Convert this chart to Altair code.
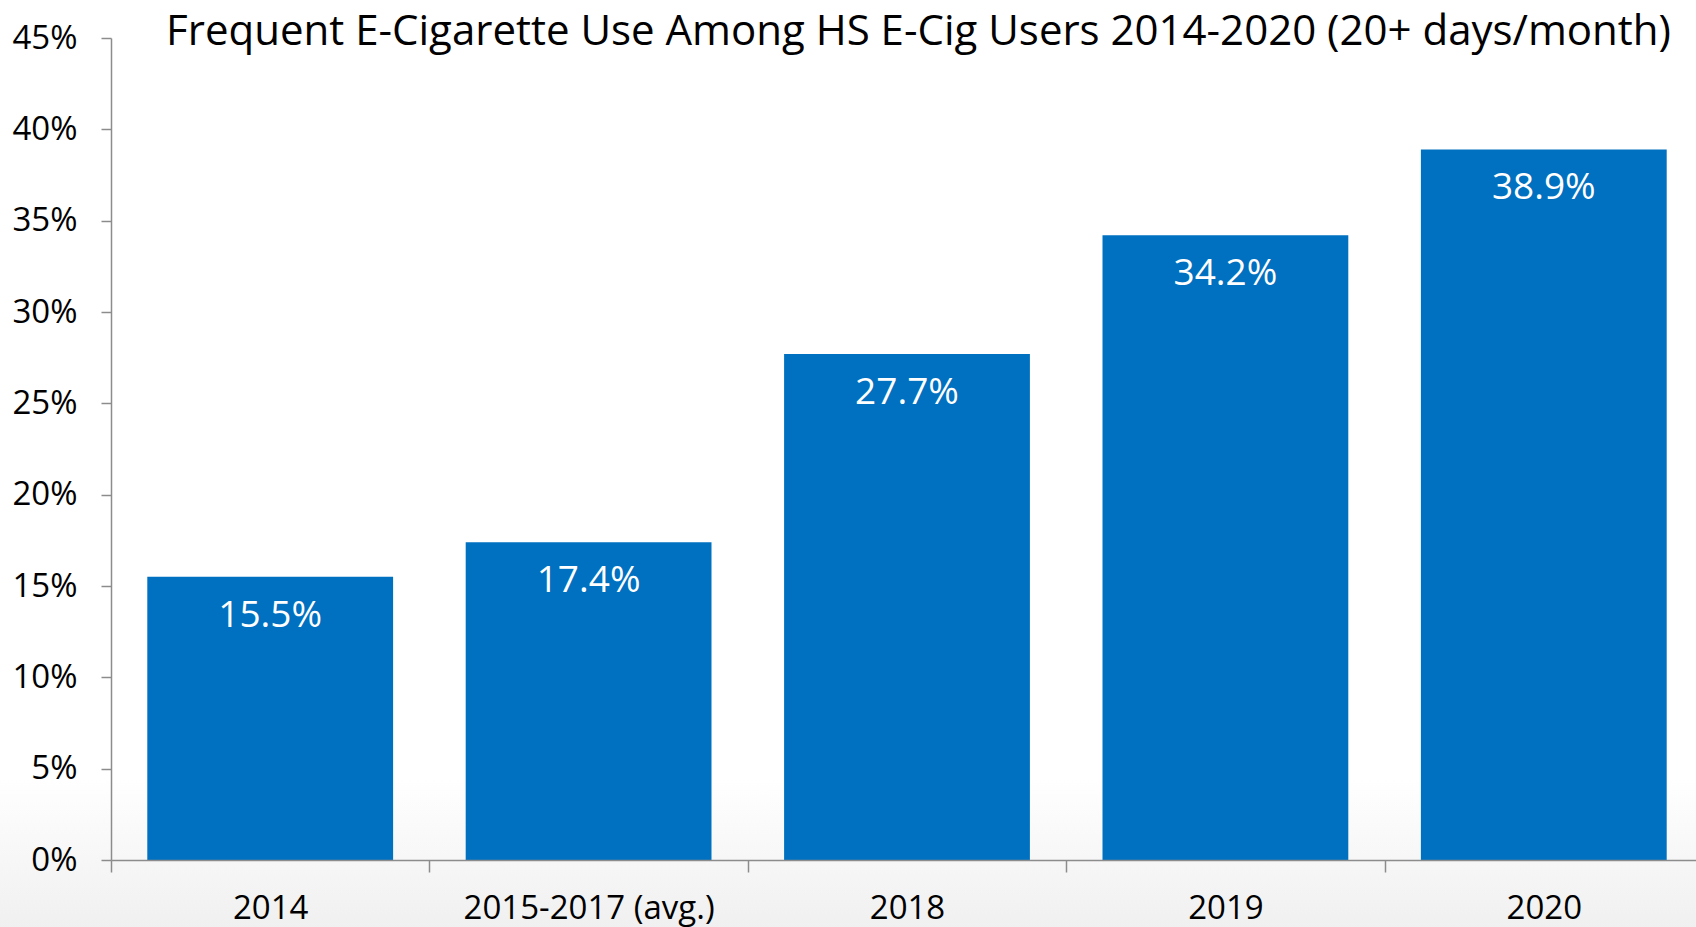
import altair as alt
import pandas as pd

categories = ["2014", "2015-2017 (avg.)", "2018", "2019", "2020"]
values = [15.5, 17.4, 27.7, 34.2, 38.9]
labels = ["15.5%", "17.4%", "27.7%", "34.2%", "38.9%"]

df = pd.DataFrame({"cat": categories, "val": values, "lab": labels})

FONT = "Open Sans"
AXIS_GRAY = "#8c8c8c"

base = alt.Chart(df)

x_scale = alt.Scale(paddingInner=0, paddingOuter=0, range=[0, 1592])

x_enc = alt.X(
    "cat:N",
    sort=categories,
    scale=x_scale,
    axis=alt.Axis(
        title=None,
        labelAngle=0,
        labelFont=FONT,
        labelFontSize=33,
        labelColor="black",
        labelPadding=20,
        labelLimit=0,
        tickBand="extent",
        tickSize=12,
        tickColor=AXIS_GRAY,
        tickWidth=1.5,
        domainColor=AXIS_GRAY,
        domainWidth=1.5,
        zindex=2,
    ),
)

y_enc = alt.Y(
    "val:Q",
    scale=alt.Scale(domain=[0, 45], nice=False),
    axis=alt.Axis(
        title=None,
        values=[0, 5, 10, 15, 20, 25, 30, 35, 40, 45],
        labelExpr="datum.value + '%'",
        labelFont=FONT,
        labelFontSize=33,
        labelColor="black",
        labelPadding=24,
        tickSize=10,
        tickColor=AXIS_GRAY,
        tickWidth=1.5,
        domainColor=AXIS_GRAY,
        domainWidth=1.5,
        grid=False,
        zindex=2,
    ),
)

bg = alt.Chart(alt.Data(values=[{}])).mark_rect(
    color=alt.Gradient(
        gradient="linear",
        stops=[
            alt.GradientStop(color="#ffffff", offset=0),
            alt.GradientStop(color="#f0f0f0", offset=1),
        ],
        x1=0, x2=0, y1=0, y2=1,
    )
).encode(
    x=alt.value(-111), x2=alt.value(1585), y=alt.value(740), y2=alt.value(889)
)

bars = base.mark_bar(color="#0070C0", width=alt.RelativeBandSize(0.772)).encode(
    x=x_enc, y=y_enc
)

text = base.mark_text(
    color="white", font=FONT, fontSize=37, baseline="middle", dy=39
).encode(x=alt.X("cat:N", sort=categories, scale=x_scale), y="val:Q", text="lab:N")

chart = alt.layer(bg, bars, text).properties(
    width=1585,
    height=822,
    padding={"left": 111, "top": 38, "right": 0, "bottom": 67},
    autosize=alt.AutoSizeParams(type="none"),
    background="white",
    title=alt.TitleParams(
        "Frequent E-Cigarette Use Among HS E-Cig Users 2014-2020 (20+ days/month)",
        font=FONT,
        fontSize=42,
        fontWeight="normal",
        color="black",
        anchor="middle",
        offset=-8,
        baseline="alphabetic",
        dx=15,
        dy=57,
    ),
).configure_view(stroke=None)

chart.save("out.html", embed_options={"renderer": "svg", "actions": False})
